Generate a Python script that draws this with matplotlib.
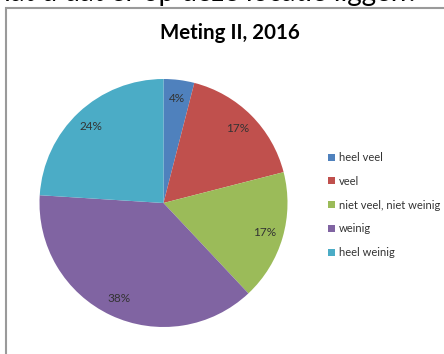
import matplotlib.pyplot as plt
from matplotlib.patches import Rectangle

labels = ["heel veel", "veel", "niet veel, niet weinig", "weinig", "heel weinig"]
values = [4, 17, 17, 38, 24]
colors = ["#4F81BD", "#C0504D", "#9BBB59", "#8064A2", "#4BACC6"]

plt.rcParams["font.family"] = ["Lato", "DejaVu Sans"]

fig = plt.figure(figsize=(4.44, 3.54), dpi=100)

# cut-off question text above the chart box
fig.text(-0.012, 1 - 0.5 / 354, "hat u dat er op deze locatie liggen?", fontsize=20,
         va="baseline", ha="left", color="black")

# chart border (Excel style)
fig.patches.append(Rectangle((6 / 444, -0.1), 1.2, 1.1 - 8 / 354,
                             transform=fig.transFigure, fill=False,
                             edgecolor="#9a9a9a", lw=1.5))

fig.text(230 / 444, 1 - 33 / 354, "Meting II, 2016", fontsize=14.8, fontweight="bold",
         ha="center", va="center", color="black")

ax = fig.add_axes([(163.5 - 124) / 444, (354 - 327) / 354, 248 / 444, 248 / 354])
wedges, texts = ax.pie(values, colors=colors, startangle=90, counterclock=False,
                       radius=1, labels=[f"{v}%" for v in values],
                       labeldistance=0.85,
                       textprops=dict(fontsize=8.5, color="#333333", ha="center", va="center"))
for t in texts:
    t.set_horizontalalignment("center")
ax.set_xlim(-1, 1)
ax.set_ylim(-1, 1)
ax.set_aspect("equal")
ax.axis("off")

fig.legend(wedges, labels, loc="upper left", bbox_to_anchor=(318 / 444, 1 - 142 / 354),
           frameon=False, fontsize=8, handlelength=0.6, handleheight=0.6,
           handletextpad=0.4, labelspacing=1.15, labelcolor="#333333")

fig.savefig("out.png", dpi=100)
